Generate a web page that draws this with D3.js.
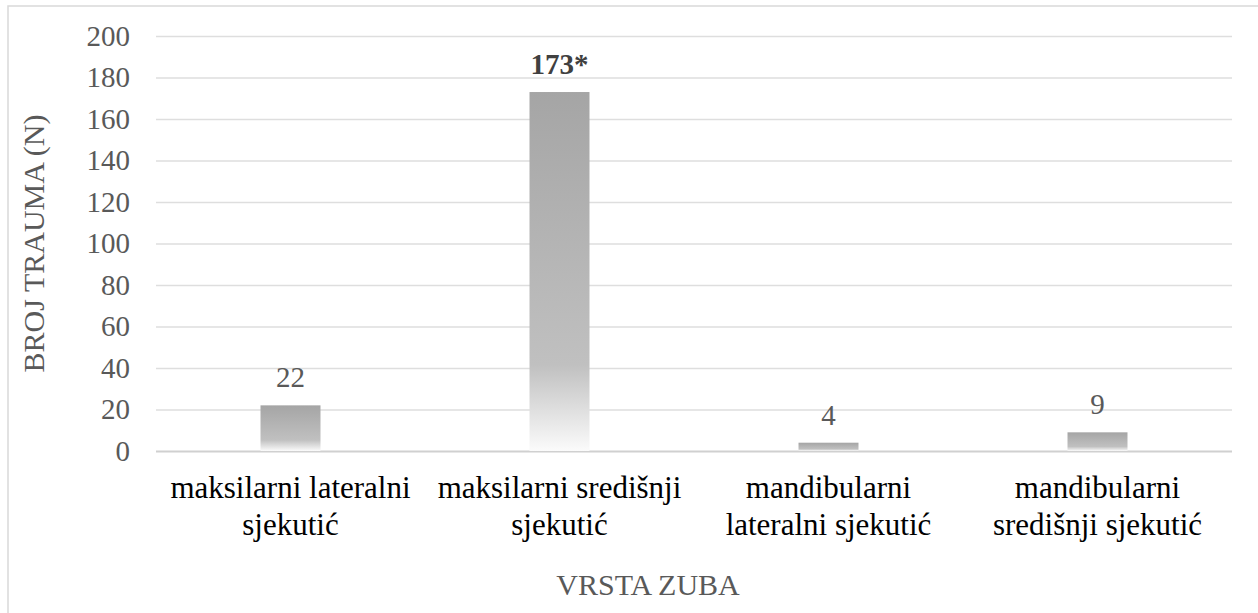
<!DOCTYPE html>
<html lang="hr">
<head>
<meta charset="utf-8"/>
<title>Broj trauma po vrsti zuba</title>
<script src="https://cdn.jsdelivr.net/npm/d3@7"></script>
<style>
  body { margin: 0; background: #fff; }
  svg text { font-family: "Liberation Serif", "Times New Roman", Tinos, "DejaVu Serif", serif; }
</style>
</head>
<body>
<svg id="chart"></svg>
<script>
// podaci
const categories = [
  ["maksilarni lateralni", "sjekutić"],
  ["maksilarni središnji", "sjekutić"],
  ["mandibularni", "lateralni sjekutić"],
  ["mandibularni", "središnji sjekutić"]
];
const values = [22, 173, 4, 9];
const valueLabels = ["22", "173*", "4", "9"];
const boldLabel = [false, true, false, false];
const yTicks = [0, 20, 40, 60, 80, 100, 120, 140, 160, 180, 200];

const width = 1258, height = 613;
const margin = {top: 36, right: 26, bottom: 162, left: 156};
const serif = '"Liberation Serif", "Times New Roman", Tinos, "DejaVu Serif", serif';

const svg = d3.select('#chart')
  .attr('width', width)
  .attr('height', height);

// okvir grafikona
svg.append('rect')
  .attr('x', 8).attr('y', 6)
  .attr('width', width + 20).attr('height', height + 20)
  .attr('fill', 'none')
  .attr('stroke', '#d9d9d9')
  .attr('stroke-width', 1.5);

const x = d3.scaleBand()
  .domain(d3.range(categories.length))
  .range([margin.left, width - margin.right])
  .paddingInner(0.777)
  .paddingOuter(0.3885);

const y = d3.scaleLinear()
  .domain([0, 200])
  .range([height - margin.bottom, margin.top]);

const defs = svg.append('defs');
const grad = defs.append('linearGradient')
  .attr('id', 'barGrad')
  .attr('x1', 0).attr('y1', 0).attr('x2', 0).attr('y2', 1);
grad.append('stop').attr('offset', '0%').attr('stop-color', '#a5a5a5');
grad.append('stop').attr('offset', '76%').attr('stop-color', '#c0c0c0');
grad.append('stop').attr('offset', '100%').attr('stop-color', '#fbfbfb');

// mreža
const yAxis = d3.axisLeft(y)
  .tickValues(yTicks)
  .tickSize(-(width - margin.left - margin.right))
  .tickPadding(26);

const gy = svg.append('g')
  .attr('transform', `translate(${margin.left},0)`)
  .call(yAxis)
  .attr('font-family', serif);
gy.select('.domain').remove();
gy.selectAll('.tick line')
  .attr('stroke', d => d === 0 ? '#d0d0d0' : '#dedede')
  .attr('stroke-width', d => d === 0 ? 2 : 1.5);
gy.selectAll('.tick text')
  .attr('fill', '#595959')
  .attr('font-family', serif)
  .style('font-size', '29px');

// stupci
svg.append('g')
  .selectAll('rect')
  .data(values)
  .enter()
  .append('rect')
  .attr('x', (d, i) => x(i))
  .attr('y', d => y(d))
  .attr('width', x.bandwidth())
  .attr('height', d => y(0) - y(d))
  .attr('fill', 'url(#barGrad)');

// oznake vrijednosti
svg.append('g')
  .selectAll('text')
  .data(values)
  .enter()
  .append('text')
  .attr('x', (d, i) => x(i) + x.bandwidth() / 2)
  .attr('y', d => y(d) - 18)
  .attr('text-anchor', 'middle')
  .attr('font-family', serif)
  .attr('fill', (d, i) => boldLabel[i] ? '#404040' : '#595959')
  .style('font-size', '29px')
  .style('font-weight', (d, i) => boldLabel[i] ? 'bold' : 'normal')
  .text((d, i) => valueLabels[i]);

// kategorije
const cat = svg.append('g')
  .selectAll('text')
  .data(categories)
  .enter()
  .append('text')
  .attr('text-anchor', 'middle')
  .attr('font-family', serif)
  .attr('fill', '#000')
  .style('font-size', '31px');
cat.each(function(lines, i) {
  const t = d3.select(this);
  lines.forEach((line, k) => {
    t.append('tspan')
      .attr('x', x(i) + x.bandwidth() / 2)
      .attr('y', 498 + k * 37)
      .text(line);
  });
});

// naslovi osi
svg.append('text')
  .attr('transform', `translate(44,${(y(0) + y(200)) / 2}) rotate(-90)`)
  .attr('text-anchor', 'middle')
  .attr('font-family', serif)
  .attr('fill', '#595959')
  .style('font-size', '30px')
  .text('BROJ TRAUMA (N)');

svg.append('text')
  .attr('x', 648)
  .attr('y', 595)
  .attr('text-anchor', 'middle')
  .attr('font-family', serif)
  .attr('fill', '#595959')
  .style('font-size', '30px')
  .text('VRSTA ZUBA');
</script>
</body>
</html>
